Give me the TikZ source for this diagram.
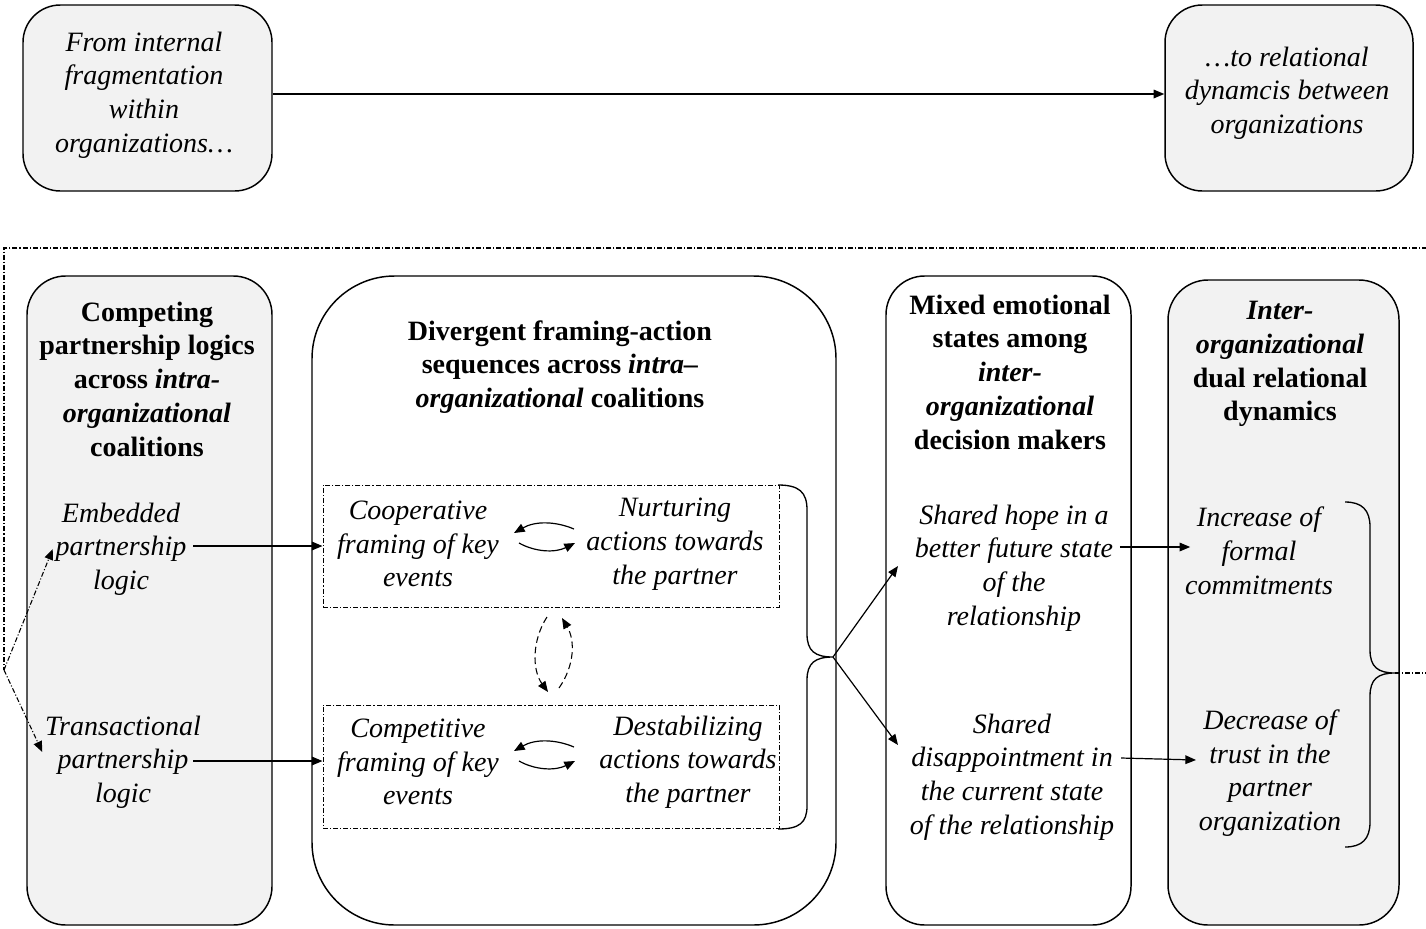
\documentclass[tikz,border=0pt]{standalone}
\usepackage{fontspec}
\setmainfont{Liberation Serif}
\usetikzlibrary{fit,arrows.meta}
\definecolor{boxgray}{HTML}{F2F2F2}
\begin{document}
\begin{tikzpicture}[x=0.75pt,y=-0.75pt,
  txt/.style={font=\fontsize{21}{25.3}\selectfont\itshape, align=center, inner xsep=5pt, inner ysep=2pt},
  hd/.style={font=\fontsize{21}{25.3}\selectfont\bfseries, align=center, inner sep=2pt},
  panel/.style={draw, line width=1.1pt, inner sep=0pt},
  gray/.style={fill=boxgray},
  frame/.style={draw, line width=0.75pt, inner sep=0pt, dash pattern=on 3.75pt off 1.5pt on 0.8pt off 1.5pt},
  arr/.style={-{Triangle[length=8pt,width=6.5pt]}, line width=0.9pt},
  dd/.style={line width=0.8pt, dash pattern=on 3.75pt off 1.5pt on 0.8pt off 1.5pt},
  dsh/.style={line width=0.8pt, dash pattern=on 5pt off 3pt},
  brace/.style={line width=1pt}
]
\useasboundingbox (0,0) rectangle (1426,928);

% top boxes
\node[panel, gray, rounded corners=28pt, fit={(23,5) (272,191)}] (tl) {};
\node[panel, gray, rounded corners=28pt, fit={(1165,5) (1413,191)}] (tr) {};
\node[txt] (tlt) at (144,95) {From internal\\fragmentation\\within\\organizations…};
\node[txt] (trt) at (1287,93) {…to relational\\dynamcis between\\organizations};
\draw[arr] (tl.east |- 0,94) -- (tr.west |- 0,94);

% columns
\node[panel, gray, rounded corners=29pt, fit={(27,276) (272,925)}] (c1) {};
\node[panel, rounded corners=62pt, fit={(312,276) (836,925)}] (c2) {};
\node[panel, rounded corners=29pt, fit={(886,276) (1131,925)}] (c3) {};
\node[panel, gray, rounded corners=30pt, fit={(1168,280) (1399,925)}] (c4) {};

% headings
\node[hd] (h1) at (147,379) {Competing\\partnership logics\\across \textit{intra-}\\\textit{organizational}\\coalitions};
\node[hd] (h2) at (560,367) {Divergent framing-action\\sequences across \textit{intra–}\\\textit{organizational} coalitions};
\node[hd] (h3) at (1010,372) {Mixed emotional\\states among\\\textit{inter-}\\\textit{organizational}\\decision makers};
\node[hd] (h4) at (1280,364) {\textit{Inter-}\\\textit{organizational}\\dual relational\\dynamics};

% column 1 items
\node[txt] (emb) at (121,549) {Embedded\\partnership\\logic};
\node[txt] (tra) at (123,762) {Transactional\\partnership\\logic};

% framing boxes
\node[frame, fit={(323,485) (779,607)}] (f1) {};
\node[frame, fit={(323,705) (779,828)}] (f2) {};
\node[txt] (coop) at (418,544) {Cooperative\\framing of key\\events};
\node[txt] (nurt) at (675,544) {Nurturing\\actions towards\\the partner};
\node[txt] (comp) at (418,762) {Competitive\\framing of key\\events};
\node[txt] (dest) at (688,762) {Destabilizing\\actions towards\\the partner};

% column 3 items
\node[txt] (hope) at (1014,568) {Shared hope in a\\better future state\\of the\\relationship};
\node[txt] (disap) at (1012,777) {Shared\\disappointment in\\the current state\\of the relationship};

% column 4 items
\node[txt] (inc) at (1259,551) {Increase of\\formal\\commitments};
\node[txt] (dec) at (1270,773) {Decrease of\\trust in the\\partner\\organization};

% arrows col1 -> framing
\draw[arr] (emb.east |- 0,546) -- (f1.west |- 0,546);
\draw[arr] (emb.east |- 0,761) -- (f2.west |- 0,761);

% small curved arrows
\coordinate (a1s) at (574,529);
\coordinate (a1e) at (514,533);
\coordinate (a2s) at (519,543);
\coordinate (a2e) at (575,543);
\draw[arr] (a1s) .. controls (555,521) and (535,521) .. (a1e);
\draw[arr] (a2s) .. controls (535,552) and (555,553) .. (a2e);
\coordinate (b1s) at (574,747);
\coordinate (b1e) at (514,751);
\coordinate (b2s) at (519,761);
\coordinate (b2e) at (575,761);
\draw[arr] (b1s) .. controls (555,739) and (535,739) .. (b1e);
\draw[arr] (b2s) .. controls (535,770) and (555,771) .. (b2e);

% dashed curved arrows between framing boxes
\coordinate (d1s) at (547,617);
\coordinate (d1e) at (548,692);
\coordinate (d2s) at (559,688);
\coordinate (d2e) at (562,618);
\draw[arr, dsh] (d1s) .. controls (532,640) and (532,670) .. (d1e);
\draw[arr, dsh] (d2s) .. controls (575,665) and (575,640) .. (d2e);

% brace A
\coordinate (tipA) at (833,657);
\draw[brace] (778,485) .. controls (799,485) and (807,492) .. (807,510) -- (807,634)
  .. controls (807,651) and (815,657) .. (tipA)
  .. controls (815,657) and (807,663) .. (807,680) -- (807,806)
  .. controls (807,823) and (799,829) .. (778,829);
\coordinate (ha) at (898,566);
\coordinate (hb) at (898,745);
\draw[arr] (tipA) -- (ha);
\draw[arr] (tipA) -- (hb);

% arrows col3 -> col4
\draw[arr] (hope.east |- 0,547) -- ([xshift=9pt]inc.west |- 0,547);
\draw[arr] (disap.east |- 0,758) -- ([xshift=3pt]dec.west |- 0,760);

% brace B
\coordinate (tipB) at (1395,673);
\draw[brace] (1345,502) .. controls (1362,502) and (1370,510) .. (1370,527) -- (1370,650)
  .. controls (1370,667) and (1378,673) .. (tipB)
  .. controls (1378,673) and (1370,679) .. (1370,696) -- (1370,822)
  .. controls (1370,839) and (1362,847) .. (1345,847);

% feedback loop
\coordinate (fb) at (4,670);
\draw[dd] (tipB) -- (1440,673) -- (1440,248) -- (4,248) -- (fb);
\draw[dd, arr, line width=0.8pt] (fb) -- ([xshift=3pt]emb.west);
\draw[dd, arr, line width=0.8pt] (fb) -- ([xshift=3pt]tra.west |- 0,752);
\end{tikzpicture}
\end{document}
